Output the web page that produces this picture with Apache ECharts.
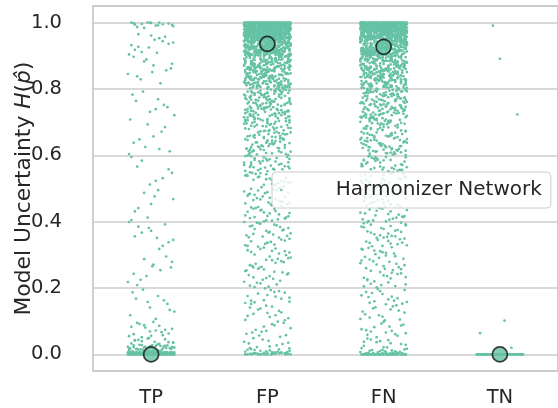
<!DOCTYPE html>
<html>
<head>
<meta charset="utf-8">
<script src="https://cdn.jsdelivr.net/npm/echarts@6/dist/echarts.min.js"></script>
<style>
html,body{margin:0;padding:0;background:#fff;}
#chart{width:558px;height:408px;}
</style>
</head>
<body>
<div id="chart"></div>
<script>
// ---------- DATA (uncertainty values in thousandths) ----------
const categories = ['TP', 'FP', 'FN', 'TN'];
const seriesName = 'Harmonizer Network';
const meanValues = [0.0, 0.936, 0.927, 0.0];

// repeated (saturated) values: [value, count]
const tpRuns = [[0,40],[3,35],[6,30]];
const tpValues = [998,1000,996,993,999,987,995,1000,991,997,984,999,994,989,1000,992,
965,948,932,957,911,940,925,953,918,936,904,961,944,927,909,
883,862,897,871,845,856,889,817,838,876,829,851,
783,752,731,769,708,745,792,721,764,739,
693,612,648,671,625,604,685,657,638,619,
584,547,512,566,531,595,523,558,
487,453,431,468,412,495,441,476,405,
392,367,345,381,318,356,338,399,372,327,385,351,
287,262,243,271,218,295,236,254,209,279,225,266,
187,163,141,176,118,152,195,129,168,107,158,134,
92,67,81,55,74,98,61,86,52,77,69,95,58,83,72,63,88,56,
42,35,48,31,44,38,33,46,40,36,49,32,43,37,
12,25,18,14,29,21,16,27,11,23,19,13,26,17,22,15,28,10,24,20,
12,18,27,14,21,16,25,11,19,29,13,23,17,26,15,22,10,28,20,24];

const fpRuns = [[1000,45],[995,42],[990,40],[985,38],[980,35],[975,32],[970,28]];
const fpValues = [0,2,1,5,0,3,8,1,0,4,12,2,6,0,1,9,3,15,0,7,2,11,4,0,18,1,5,3,0,14,6,2,10,0,1,16,4,8,0,3,13,2,0,7,19,
24,38,31,45,27,49,35,22,41,33,
53,71,88,62,95,57,79,66,91,84,58,74,99,68,
104,127,113,141,118,135,109,147,122,131,116,144,103,138,125,
152,171,163,188,157,194,176,168,183,159,199,174,162,186,155,179,191,
203,228,214,241,207,236,219,247,225,211,232,244,216,204,239,222,230,249,
253,278,261,292,267,284,256,299,273,288,264,251,281,295,269,276,258,290,285,262,
304,327,312,343,318,336,309,348,322,331,301,339,314,346,325,307,333,319,341,311,329,337,
352,378,361,394,357,386,369,399,374,355,389,363,381,397,367,353,384,372,391,359,376,395,365,388,
403,428,412,441,407,436,419,447,425,411,432,444,416,404,439,422,430,449,409,434,417,443,426,401,438,414,
452,478,461,494,457,486,469,499,474,455,489,463,481,497,467,453,484,472,491,459,476,495,465,488,471,458,483,
503,528,512,541,507,536,519,547,525,511,532,544,516,504,539,522,530,549,509,534,517,543,526,501,538,514,521,546,
552,578,561,594,557,586,569,599,574,555,589,563,581,597,567,553,584,572,591,559,576,595,565,588,571,558,583,592,564,579,
603,628,612,641,607,636,619,647,625,611,632,644,616,604,639,622,630,649,609,634,617,643,626,601,638,614,621,646,606,631,618,642,624,637,
652,678,661,694,657,686,669,699,674,655,689,663,681,697,667,653,684,672,691,659,676,695,665,688,671,658,683,692,664,679,651,687,668,696,675,662,682,698,656,673,
703,728,712,741,707,736,719,747,725,711,732,744,716,704,739,722,730,749,709,734,717,743,726,701,738,714,721,746,706,731,718,742,724,737,702,727,713,745,708,733,720,748,715,729,705,740,723,735,
752,778,761,794,757,786,769,799,774,755,789,763,781,797,767,753,784,772,791,759,776,795,765,788,771,758,783,792,764,779,751,787,768,796,775,762,782,798,756,773,790,760,785,770,793,754,780,766,777,787,762,795,758,774,769,783,791,756,
801,827,813,842,806,835,819,848,824,811,832,845,816,804,839,822,830,849,809,834,817,843,826,802,838,814,821,846,807,831,818,841,825,836,803,828,812,844,808,833,
820,847,815,829,805,840,823,837,810,826,800,843,818,831,806,848,813,835,821,804,839,827,816,845,809,832,819,842,824,811,836,803,829,847,814,838,822,807,833,817,
852,878,861,894,857,886,869,899,874,855,889,863,881,897,867,853,884,872,891,859,876,895,865,888,871,858,883,892,864,879,851,887,868,896,875,862,882,898,856,873,
890,860,885,870,893,854,880,866,877,887,862,895,858,874,869,883,891,856,899,864,878,852,886,871,894,860,882,867,889,855,876,897,863,884,870,892,857,879,866,898,
853,888,873,861,896,868,881,859,893,875,850,885,865,899,872,857,890,878,862,895,870,854,883,867,891,
903,928,912,941,907,936,919,947,925,911,932,944,916,904,939,922,930,949,909,934,917,943,926,901,938,914,921,946,906,931,918,942,924,937,902,927,913,945,908,933,
920,948,915,929,905,940,923,935,910,927,900,943,918,931,906,948,913,935,921,904,939,927,916,945,909,932,919,942,924,911,936,903,929,947,914,938,922,907,933,917,
941,902,926,949,912,937,905,930,918,944,908,923,946,915,934,901,928,940,911,925,947,906,932,919,943,903,936,921,909,929,945,914,938,900,924,942,917,931,905,949,
913,927,944,908,935,920,902,939,925,911,946,918,930,904,941,922,937,910,948,915,926,901,943,919,933,907,945,912,928,940,906,923,947,916,934,903,938,921,909,942,
944,929,905,936,918,949,911,925,941,902,932,914,946,920,907,939,927,912,943,904,930,917,948,923,910,935,901,945,919,928,906,941,913,937,924,947,908,933,916,940,
955,968,951,962,958,966,953,969,960,957,964,952,967,959,956,963,950,965,961,954,970,958,962,951,967,956,964,953,960,968,957,963,952,966,959,955,969,961,954,965,
958,950,967,962,953,960,956,968,964,951,959,966,955,962,957,970,953,961,965,952,968,958,963,950,956,969,960,954,967,962,951,964,958,955,966,953,961,969,957,963,
952,960,967,954,965,959,950,962,968,956,963,951,958,966,955,961,969,953,964,957,960,952,967,959,954,965,962,950,968,956,963,958,951,966,961,955,969,953,960,964,
957,952,967,959,962,954,965,950,968,956,961,963,958,951,966,955,960,969,953,964,957,962,959,966,952,968,955,961,954,963,
571,623,598,645,612,687,633,559,664,606,692,578,651,627,683,614,566,639,673,602,658,589,695,621,647,582,669,611,636,655,
712,758,736,781,703,749,769,724,792,741,717,775,733,798,706,763,728,787,745,719,772,738,794,709,755,731,784,722,766,743,701,779,752,727,790,
812,857,834,879,806,848,823,891,841,817,866,829,884,803,852,838,897,815,861,844,873,809,887,826,855,836,899,819,868,846,881,811,859,831,893,821,864,840,876,805,
912,937,924,951,905,943,918,957,931,909,948,926,954,915,939,902,946,921,958,934,911,950,928,941,907,955,919,936,945,914,953,923,940,903,947,929,956,917,938,910,952,925,944,906,959,
832,871,845,903,818,886,857,921,839,894,866,912,827,878,851,908,843,889,862,925,815,874,899,836,917,854,881,928,823,868,906,847,892,859,914,831,877,901,864,919];

const fnRuns = [[0,35],[1000,45],[995,42],[990,40],[985,36],[980,33],[975,30],[970,26]];
const fnValues = [3,1,7,2,0,5,11,1,4,9,2,6,14,3,0,8,1,17,5,2,10,4,13,1,6,19,3,7,2,12,0,15,4,1,9,
26,43,31,37,22,48,29,40,34,45,21,38,
56,82,64,93,71,59,87,76,98,61,69,84,52,90,73,66,
107,132,118,145,111,126,139,103,121,148,114,136,129,105,142,
158,173,166,191,153,185,162,197,178,169,151,188,174,160,194,182,156,
206,231,217,244,202,238,224,211,248,229,213,236,205,242,220,233,209,246,226,
257,283,266,296,252,279,271,288,260,298,275,263,291,254,286,269,281,258,294,273,
308,334,316,347,302,329,321,342,311,337,326,304,345,318,332,306,340,323,313,349,327,336,
356,383,364,397,351,378,371,392,359,387,367,354,395,375,362,389,381,357,398,369,385,352,373,391,
406,433,414,448,401,427,421,442,409,437,417,404,445,425,412,439,431,407,447,419,435,402,423,441,415,
457,484,465,496,451,477,472,491,459,488,468,454,494,476,462,489,481,456,498,469,486,452,474,492,463,479,
507,533,515,547,501,528,522,541,509,538,518,504,545,526,512,539,531,506,548,519,536,502,524,542,513,529,545,517,
556,583,564,597,551,578,571,592,559,587,567,554,595,575,562,589,581,557,598,569,585,552,573,591,563,579,594,566,586,558,
606,633,614,647,601,628,621,642,609,637,617,604,645,626,612,639,631,607,648,619,636,602,624,641,613,629,644,616,634,608,622,646,611,638,625,
657,683,664,697,651,678,671,692,659,687,667,654,695,676,662,689,681,657,698,669,686,652,674,691,663,679,694,666,684,658,672,696,661,688,675,653,693,668,682,699,
706,733,714,747,701,728,721,742,709,737,717,704,745,726,712,739,731,707,748,719,736,702,724,741,713,729,744,716,734,708,722,746,711,738,725,703,743,718,732,749,710,727,740,715,735,705,723,730,
756,783,764,797,751,778,771,792,759,787,767,754,795,776,762,789,781,757,798,769,786,752,774,791,763,779,794,766,784,758,772,796,761,788,775,753,793,768,782,799,760,777,790,765,785,755,773,780,796,763,787,758,771,792,754,779,767,784,
806,833,814,847,801,828,821,842,809,837,817,804,845,826,812,839,831,807,848,819,836,802,824,841,813,829,844,816,834,808,822,846,811,838,825,803,843,818,832,849,
810,827,840,815,835,805,823,830,846,813,837,808,821,842,804,829,817,834,800,826,848,811,839,819,803,832,845,814,828,807,841,822,836,809,847,816,825,801,838,820,
857,883,864,897,851,878,871,892,859,887,867,854,895,876,862,889,881,857,898,869,886,852,874,891,863,879,894,866,884,858,872,896,861,888,875,853,893,868,882,899,
860,877,890,865,885,855,873,880,896,863,887,858,871,892,854,879,867,884,850,876,898,861,889,869,853,882,895,864,878,857,891,872,886,859,897,866,875,851,888,870,
893,856,881,862,899,874,852,885,868,890,859,877,894,865,883,855,870,898,861,887,
907,933,914,947,901,928,921,942,909,937,917,904,945,926,912,939,931,907,948,919,936,902,924,941,913,929,944,916,934,908,922,946,911,938,925,903,943,918,932,949,
910,927,940,915,935,905,923,930,946,913,937,908,921,942,904,929,917,934,900,926,948,911,939,919,903,932,945,914,928,907,941,922,936,909,947,916,925,901,938,920,
943,906,931,912,949,924,902,935,918,940,909,927,944,915,933,905,920,948,911,937,903,929,941,916,934,900,925,946,913,938,907,922,945,910,932,918,947,904,930,939,
912,936,921,944,906,928,949,917,933,902,940,925,909,946,919,931,905,943,914,937,923,901,948,910,929,942,916,935,908,927,945,903,920,938,911,947,924,906,933,918,
941,913,930,904,944,922,909,936,917,948,902,928,940,915,934,907,925,943,911,931,946,919,903,937,921,912,945,926,939,908,
961,953,968,956,964,950,959,966,952,962,969,955,958,965,951,963,957,967,954,960,970,953,961,966,956,963,950,968,959,964,952,957,965,955,962,969,951,958,960,967,
954,963,956,969,952,961,965,958,950,966,955,962,953,968,960,957,964,951,967,959,956,963,954,969,961,952,958,965,950,962,957,966,953,960,968,955,964,951,959,963,
966,952,960,955,968,957,963,950,961,965,954,958,969,953,962,956,967,951,959,964,960,955,966,952,963,957,968,954,961,950,965,958,962,956,969,953,960,967,951,964,
955,961,958,966,950,963,957,969,953,960,965,952,959,967,954,962,956,968,951,964,958,961,955,966,953,963,957,960,952,965,
568,627,594,649,615,684,637,556,661,609,696,574,655,624,680,618,562,642,677,605,653,586,699,628,644,585,666,614,632,659,
715,754,739,785,708,746,767,721,795,744,713,778,736,791,704,761,725,789,748,716,776,734,797,711,758,729,781,726,769,740,702,774,751,723,793,
815,853,837,876,808,845,827,894,844,813,862,826,887,801,857,835,899,818,865,841,870,806,883,829,851,833,896,816,872,849,885,814,856,838,890,824,861,843,879,802,
914,935,927,953,903,941,916,958,933,907,946,922,951,918,937,901,949,924,956,931,913,952,926,944,905,957,921,939,947,911,950,925,942,904,945,932,954,919,936,908,955,928,948,902,959,
829,874,848,906,816,883,859,923,836,897,863,915,824,875,854,911,841,886,866,927,812,871,896,838,919,851,884,925,821,865,909,844,890,857,917,833,879,903,861,921];

const tnRuns = [[0,60]];
const tnValues = [20,64,102,723,991,891];

// horizontal jitter offsets (hundredths of a category width)
const jitter = [3,-17,12,-8,19,-2,7,-14,15,-19,0,10,-11,5,-6,17,-15,2,-20,13,-4,8,-12,18,-9,1,-16,11,-1,6,-18,14,-7,20,-13,4,-3,16,-10,9,-5,-19,12,2,-15,7,-8,18,-1,-12,10,-17,4,15,-6,0,-14,19,-3,6,-11];

// ---------- BUILD ----------
const perCategory = [
  {runs: tpRuns, values: tpValues},
  {runs: fpRuns, values: fpValues},
  {runs: fnRuns, values: fnValues},
  {runs: tnRuns, values: tnValues}
];
const points = [];
perCategory.forEach(function (c, ci) {
  let k = ci * 17;
  const ys = [];
  c.runs.forEach(function (r) { for (let n = 0; n < r[1]; n++) ys.push(r[0]); });
  c.values.forEach(function (v) { ys.push(v); });
  ys.forEach(function (v) {
    points.push([ci + jitter[k % jitter.length] / 100, v / 1000]);
    k++;
  });
});
const meanData = meanValues.map(function (m, i) { return [i, m]; });

const GREEN = '#66c2a5';
const TEXT = '#262626';
const LIGHT = '#cccccc';
const FONT = 'DejaVu Sans';

const chart = echarts.init(document.getElementById('chart'), null, {renderer: 'canvas'});
chart.setOption({
  animation: false,
  backgroundColor: '#ffffff',
  textStyle: {fontFamily: FONT},
  grid: {
    left: 93, top: 6, width: 469, height: 365,
    show: true, borderColor: LIGHT, borderWidth: 1.8, backgroundColor: 'transparent'
  },
  legend: {
    data: [seriesName],
    left: 272, top: 172,
    orient: 'horizontal',
    icon: 'circle',
    itemWidth: 25, itemHeight: 2.6, itemGap: 0,
    padding: [8, 9, 8, 8],
    backgroundColor: 'rgba(255,255,255,0.8)',
    borderColor: LIGHT, borderWidth: 1, borderRadius: 4,
    textStyle: {fontFamily: FONT, fontSize: 20, color: TEXT, padding: [0, 0, 0, 37]},
    selectedMode: false
  },
  xAxis: [
    {type: 'value', min: -0.5, max: 3.5, show: false, position: 'top'},
    {
      type: 'category', data: categories, boundaryGap: true, position: 'bottom',
      axisLine: {show: false}, axisTick: {show: false}, splitLine: {show: false},
      axisLabel: {fontFamily: FONT, fontSize: 19.5, color: TEXT, margin: 17}
    }
  ],
  yAxis: {
    type: 'value', min: -0.05, max: 1.05, splitNumber: 5,
    axisLine: {show: false}, axisTick: {show: false},
    splitLine: {show: true, lineStyle: {color: LIGHT, width: 1.6}},
    axisLabel: {
      fontFamily: FONT, fontSize: 19.5, color: TEXT, margin: 31,
      showMinLabel: false, showMaxLabel: false,
      formatter: function (v) { return v.toFixed(1); }
    },
    name: 'Model Uncertainty {i|H}(' + '{i|p\u0302}' + ')',
    nameLocation: 'middle', nameGap: 58,
    nameMoveOverlap: false,
    nameTextStyle: {
      fontFamily: FONT, fontSize: 21.8, color: TEXT,
      rich: {i: {fontFamily: FONT, fontSize: 21.8, fontStyle: 'italic', color: TEXT}}
    }
  },
  series: [
    {
      name: seriesName, type: 'scatter', xAxisIndex: 0, yAxisIndex: 0,
      data: points, symbol: 'circle', symbolSize: 2.7,
      itemStyle: {color: GREEN, opacity: 1},
      emphasis: {disabled: true}, z: 2, large: false
    },
    {
      name: 'mean', type: 'scatter', xAxisIndex: 0, yAxisIndex: 0,
      data: meanData, symbol: 'circle', symbolSize: 15,
      itemStyle: {color: GREEN, borderColor: '#111111', borderWidth: 1.7},
      emphasis: {disabled: true}, z: 5
    }
  ]
});
</script>
</body>
</html>
